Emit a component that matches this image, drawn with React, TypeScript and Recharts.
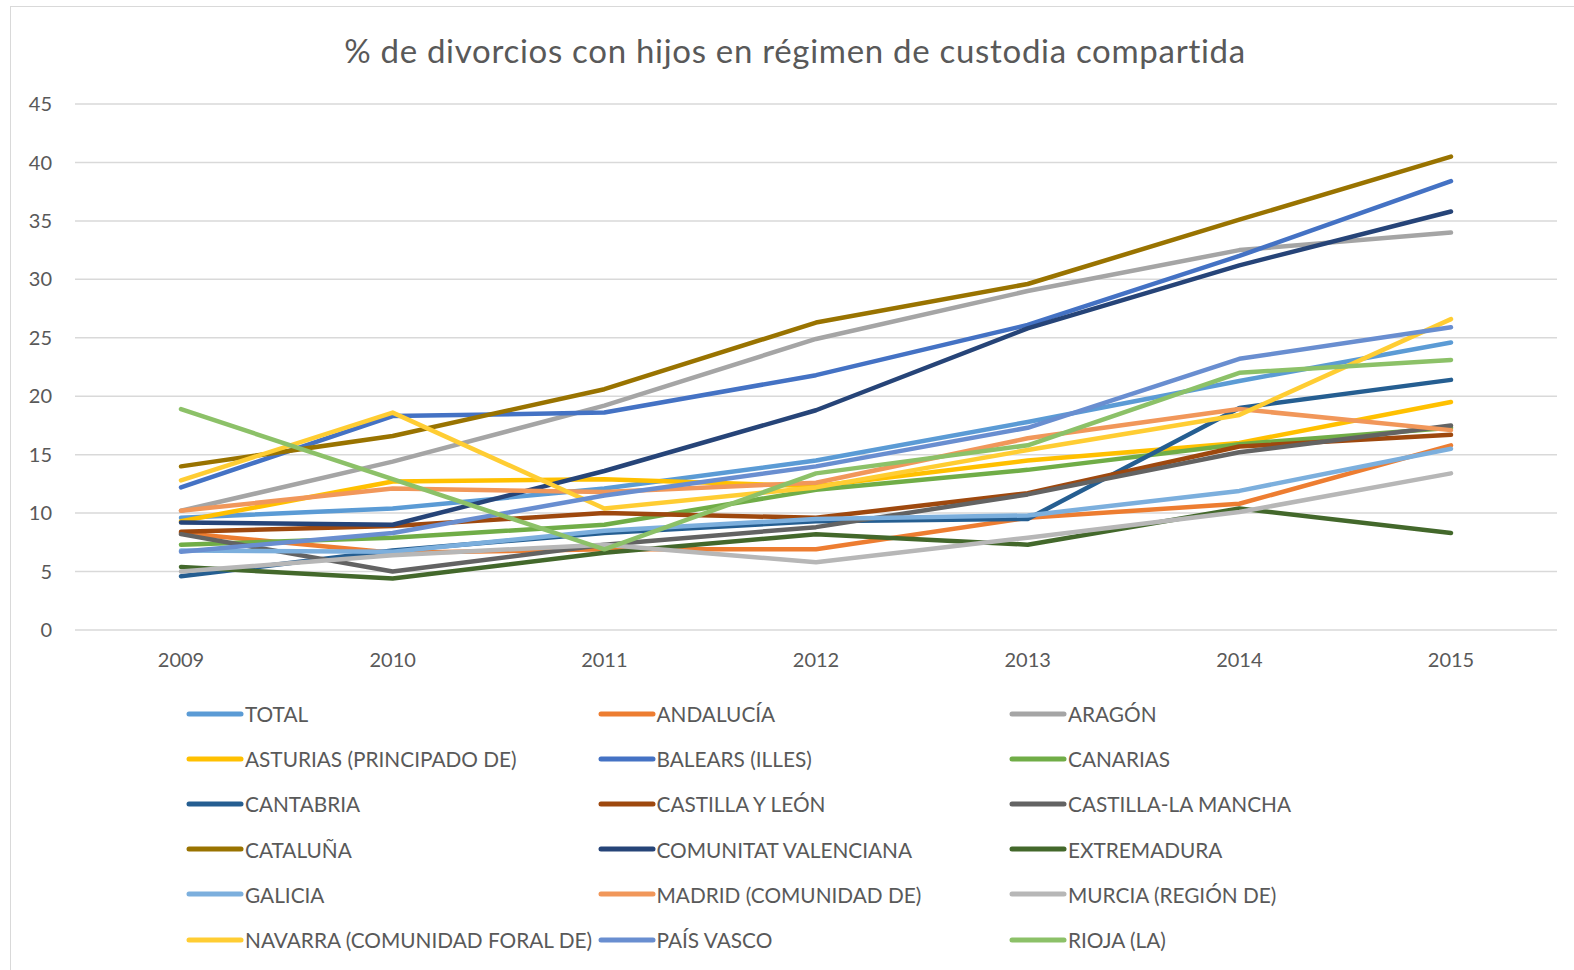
import { CartesianGrid, Legend, Line, LineChart, XAxis, YAxis } from 'recharts'

const years = ['2009', '2010', '2011', '2012', '2013', '2014', '2015']
const yTicks = [0, 5, 10, 15, 20, 25, 30, 35, 40, 45]

const total = [9.6, 10.4, 12.1, 14.5, 17.8, 21.3, 24.6]
const andalucia = [8.3, 6.6, 6.9, 6.9, 9.6, 10.8, 15.8]
const aragon = [10.2, 14.4, 19.2, 24.9, 29.0, 32.5, 34.0]
const asturias = [9.3, 12.7, 12.9, 12.3, 14.5, 16.0, 19.5]
const baleares = [12.2, 18.3, 18.6, 21.8, 26.1, 32.0, 38.4]
const canarias = [7.3, 7.9, 9.0, 12.0, 13.7, 15.9, 17.3]
const cantabria = [4.6, 6.8, 8.3, 9.3, 9.5, 19.0, 21.4]
const castillaLeon = [8.4, 8.9, 10.0, 9.6, 11.7, 15.7, 16.7]
const castillaMancha = [8.2, 5.0, 7.3, 8.8, 11.6, 15.2, 17.5]
const cataluna = [14.0, 16.6, 20.6, 26.3, 29.6, 35.1, 40.5]
const valenciana = [9.2, 9.0, 13.6, 18.8, 25.8, 31.2, 35.8]
const extremadura = [5.4, 4.4, 6.6, 8.2, 7.3, 10.4, 8.3]
const galicia = [6.8, 6.7, 8.5, 9.5, 9.8, 11.9, 15.5]
const madrid = [10.2, 12.1, 11.8, 12.6, 16.4, 18.9, 17.1]
const murcia = [5.0, 6.4, 7.3, 5.8, 7.9, 10.1, 13.4]
const navarra = [12.8, 18.6, 10.4, 12.2, 15.4, 18.4, 26.6]
const paisVasco = [6.7, 8.3, 11.5, 14.0, 17.3, 23.2, 25.9]
const rioja = [18.9, 12.9, 6.9, 13.4, 15.8, 22.0, 23.1]

const series = [
  { name: 'TOTAL', values: total, color: '#5B9BD5' },
  { name: 'ANDALUCÍA', values: andalucia, color: '#ED7D31' },
  { name: 'ARAGÓN', values: aragon, color: '#A5A5A5' },
  { name: 'ASTURIAS (PRINCIPADO DE)', values: asturias, color: '#FFC000' },
  { name: 'BALEARS (ILLES)', values: baleares, color: '#4472C4' },
  { name: 'CANARIAS', values: canarias, color: '#70AD47' },
  { name: 'CANTABRIA', values: cantabria, color: '#255E91' },
  { name: 'CASTILLA Y LEÓN', values: castillaLeon, color: '#9E480E' },
  { name: 'CASTILLA-LA MANCHA', values: castillaMancha, color: '#636363' },
  { name: 'CATALUÑA', values: cataluna, color: '#997300' },
  { name: 'COMUNITAT VALENCIANA', values: valenciana, color: '#264478' },
  { name: 'EXTREMADURA', values: extremadura, color: '#43682B' },
  { name: 'GALICIA', values: galicia, color: '#7CAFDD' },
  { name: 'MADRID (COMUNIDAD DE)', values: madrid, color: '#F1975A' },
  { name: 'MURCIA (REGIÓN DE)', values: murcia, color: '#B7B7B7' },
  { name: 'NAVARRA (COMUNIDAD FORAL DE)', values: navarra, color: '#FFCD33' },
  { name: 'PAÍS VASCO', values: paisVasco, color: '#698ED0' },
  { name: 'RIOJA (LA)', values: rioja, color: '#8CC168' }
]

const data = years.map((year, i) => {
  const row: Record<string, string | number> = { year }
  series.forEach((s) => {
    row[s.name] = s.values[i]
  })
  return row
})

const FONT = 'Lato, "Open Sans", sans-serif'
const TEXT = '#595959'

// legend: 3 columns, row-major like Excel
function LegendGrid() {
  return (
    <div
      style={{
        display: 'grid',
        gridTemplateColumns: '411.5px 411.5px 411.5px',
        fontFamily: FONT,
        fontSize: 20.8,
        color: TEXT
      }}
    >
      {series.map((s) => (
        <div
          key={s.name}
          style={{ display: 'flex', alignItems: 'center', height: 45.2, whiteSpace: 'nowrap' }}
        >
          <svg width={59} height={10} style={{ flex: 'none' }}>
            <line
              x1={3}
              y1={5}
              x2={55}
              y2={5}
              stroke={s.color}
              strokeWidth={5}
              strokeLinecap="round"
            />
          </svg>
          <span>{s.name}</span>
        </div>
      ))}
    </div>
  )
}

export default function App() {
  return (
    <div
      style={{
        position: 'fixed',
        left: 0,
        top: 0,
        width: 1574,
        height: 970,
        overflow: 'hidden',
        background: '#fff'
      }}
    >
      <div
        style={{
          position: 'absolute',
          left: 10,
          top: 6,
          width: 1600,
          height: 1000,
          border: '1.5px solid #d9d9d9'
        }}
      />
      <div
        style={{
          position: 'absolute',
          left: 0,
          top: 29,
          width: 1590,
          textAlign: 'center',
          fontFamily: FONT,
          fontSize: 33,
          letterSpacing: 0.7,
          color: TEXT,
          lineHeight: '42px'
        }}
      >
        % de divorcios con hijos en régimen de custodia compartida
      </div>
      <div style={{ position: 'absolute', left: 0, top: 0 }}>
        <LineChart
          width={1574}
          height={970}
          data={data}
          margin={{ top: 104, right: 17, left: 0, bottom: 300 }}
        >
          <CartesianGrid vertical={false} stroke="#d9d9d9" strokeWidth={1.5} />
          <XAxis
            dataKey="year"
            axisLine={false}
            tickLine={false}
            tickSize={0}
            tickMargin={23}
            height={40}
            padding={{ left: 106, right: 106 }}
            tick={{ fill: TEXT, fontSize: 20, fontFamily: FONT }}
          />
          <YAxis
            domain={[0, 45]}
            ticks={yTicks}
            width={75}
            axisLine={false}
            tickLine={false}
            tickSize={0}
            tickMargin={23}
            tick={{ fill: TEXT, fontSize: 20, fontFamily: FONT }}
          />
          <Legend
            layout="horizontal"
            verticalAlign="middle"
            align="center"
            wrapperStyle={{ top: 691, left: 186, width: 1300 }}
            content={() => <LegendGrid />}
          />
          {series.map((s) => (
            <Line
              key={s.name}
              type="linear"
              dataKey={s.name}
              stroke={s.color}
              strokeWidth={4.5}
              strokeLinecap="round"
              strokeLinejoin="round"
              dot={false}
              activeDot={false}
              isAnimationActive={false}
            />
          ))}
        </LineChart>
      </div>
    </div>
  )
}
